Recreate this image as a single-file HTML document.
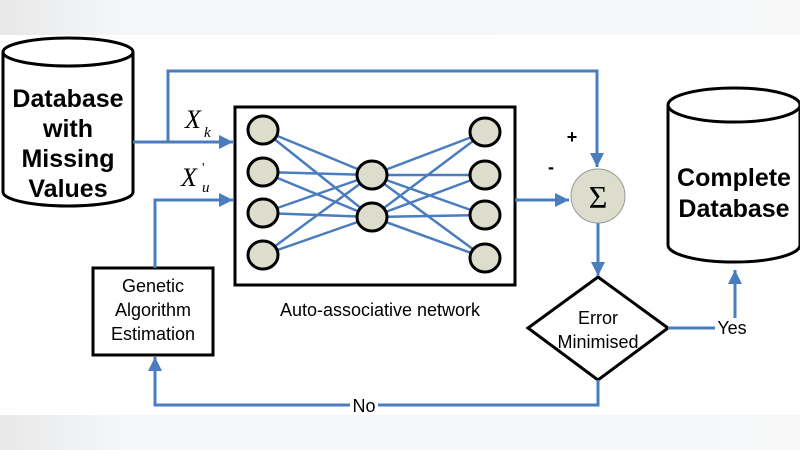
<!DOCTYPE html>
<html><head><style>body{margin:0;background:#fff}svg{display:block}</style></head><body>
<svg width="800" height="450" viewBox="0 0 800 450" xmlns="http://www.w3.org/2000/svg" font-family="Liberation Sans, sans-serif">
<defs>
<linearGradient id="tg" x1="0" x2="1"><stop offset="0" stop-color="#e8e8e8"/><stop offset="0.15" stop-color="#f4f6f9"/><stop offset="0.85" stop-color="#f5f7fa"/><stop offset="1" stop-color="#f8f8f8"/></linearGradient>
<marker id="b" viewBox="0 0 10 10" markerWidth="14" markerHeight="14" refX="10" refY="5" orient="auto" markerUnits="userSpaceOnUse"><path d="M0,0 L10,5 L0,10 z" fill="#4a7cc0"/></marker>
</defs>
<rect width="800" height="35" fill="url(#tg)"/>
<rect y="415" width="800" height="35" fill="url(#tg)"/>
<g fill="#fff" stroke="#000" stroke-width="3">
<path d="M3,52 V192 A65,14 0 0 0 133,192 V52"/><ellipse cx="68" cy="52" rx="65" ry="14"/>
<path d="M668,105 V245 A66,17 0 0 0 800,245 V105"/><ellipse cx="734" cy="105" rx="66" ry="17"/>
<rect x="235" y="107" width="280" height="178"/>
<rect x="93" y="268" width="120" height="87"/>
<polygon points="598,277 668,328 598,380 528,328"/>
</g>
<g font-weight="bold" font-size="25" text-anchor="middle">
<text x="68" y="107">Database</text><text x="68" y="137">with</text><text x="68" y="167">Missing</text><text x="68" y="197">Values</text>
<text x="734" y="186">Complete</text><text x="734" y="217">Database</text>
</g>
<g stroke="#4a7cc0" stroke-width="3" fill="none">
<path d="M133,142 H233" marker-end="url(#b)"/>
<path d="M168,142 V71 H597 V167" marker-end="url(#b)"/>
<path d="M155,268 V200 H233" marker-end="url(#b)"/>
<path d="M515,200 H569" marker-end="url(#b)"/>
<path d="M598,223 V276" marker-end="url(#b)"/>
<path d="M668,328 H715"/>
<path d="M735,318 V270" marker-end="url(#b)"/>
<path d="M598,380 V405 H155 V357" marker-end="url(#b)"/>
</g>
<g stroke="#4a7cc0" stroke-width="2.5">
<path d="M263,130 L372,175 M263,130 L372,217 M263,172 L372,175 M263,172 L372,217 M263,213 L372,175 M263,213 L372,217 M263,255 L372,175 M263,255 L372,217"/>
<path d="M485,132 L372,175 M485,132 L372,217 M485,175 L372,175 M485,175 L372,217 M485,215 L372,175 M485,215 L372,217 M485,258 L372,175 M485,258 L372,217"/>
</g>
<g fill="#dcddcc" stroke="#000" stroke-width="3">
<ellipse cx="263" cy="130" rx="15" ry="14"/><ellipse cx="263" cy="172" rx="15" ry="14"/><ellipse cx="263" cy="213" rx="15" ry="14"/><ellipse cx="263" cy="255" rx="15" ry="14"/>
<ellipse cx="372" cy="175" rx="15" ry="14"/><ellipse cx="372" cy="217" rx="15" ry="14"/>
<ellipse cx="485" cy="132" rx="15" ry="14"/><ellipse cx="485" cy="175" rx="15" ry="14"/><ellipse cx="485" cy="215" rx="15" ry="14"/><ellipse cx="485" cy="258" rx="15" ry="14"/>
</g>
<circle cx="598" cy="196" r="27" fill="#dcddcc" stroke="#999" stroke-width="1"/>
<text x="598" y="208" font-family="Liberation Serif, serif" font-size="32" text-anchor="middle">Σ</text>
<g font-family="Liberation Serif, serif" font-style="italic" font-size="26">
<text x="185" y="128">X</text><text x="204" y="137" font-size="15">k</text>
<text x="181" y="186">X</text><text x="202" y="192" font-size="15">u</text><text x="202" y="172" font-size="14" font-style="normal">'</text>
</g>
<rect x="350" y="396" width="28" height="18" fill="#fff"/>
<g font-size="18" text-anchor="middle">
<text x="153" y="292">Genetic</text><text x="153" y="316">Algorithm</text><text x="153" y="340">Estimation</text>
<text x="380" y="316">Auto-associative network</text>
<text x="598" y="324">Error</text><text x="598" y="348">Minimised</text>
<text x="732" y="334">Yes</text>
<text x="364" y="412">No</text>
<text x="572" y="143" font-weight="bold">+</text>
<text x="551" y="173" font-weight="bold">-</text>
</g>
</svg>
</body></html>
